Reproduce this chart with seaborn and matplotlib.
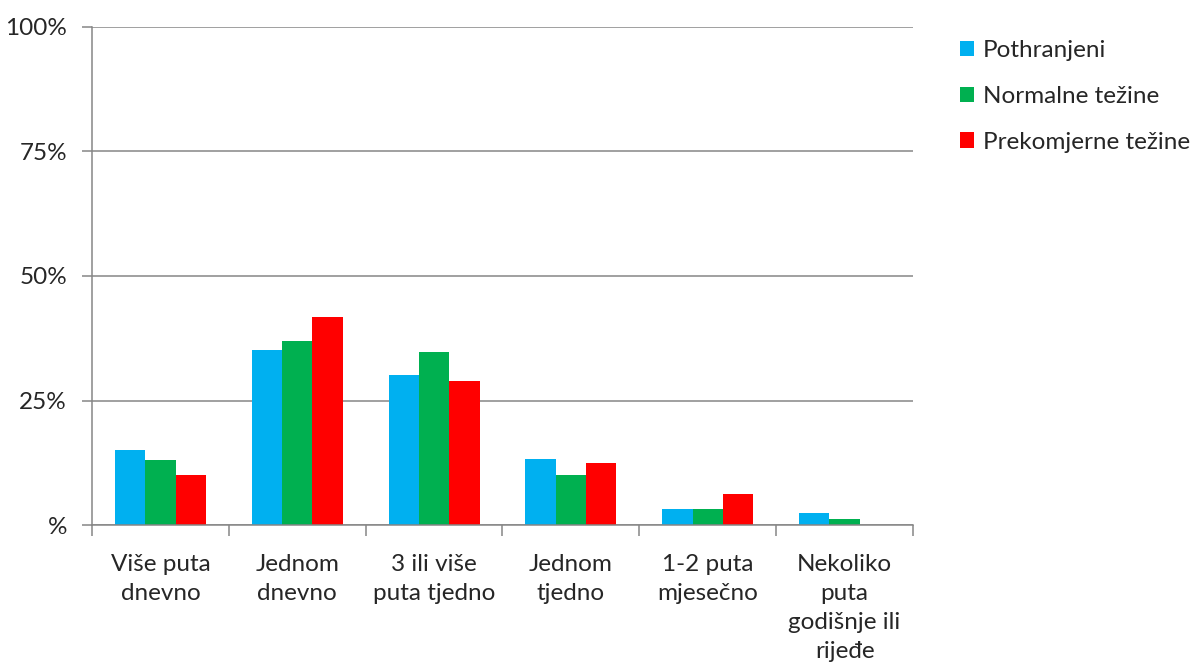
import matplotlib
matplotlib.use("Agg")
import matplotlib.pyplot as plt
import seaborn as sns
import pandas as pd
import numpy as np
from matplotlib.ticker import FixedLocator

categories = ["Više puta\ndnevno", "Jednom\ndnevno", "3 ili više\nputa tjedno",
              "Jednom\ntjedno", "1-2 puta\nmjesečno", "Nekoliko\nputa\ngodišnje ili\nrijeđe"]
series = ["Pothranjeni", "Normalne težine", "Prekomjerne težine"]
pothranjeni = [15.0, 35.1, 30.1, 13.3, 3.3, 2.4]
normalne = [13.1, 37.0, 34.7, 10.1, 3.2, 1.2]
prekomjerne = [10.0, 41.7, 29.0, 12.5, 6.3, 0.0]
colors = ["#00B0F0", "#00B050", "#FF0000"]
ytick_vals = [0, 25, 50, 75, 100]
ytick_labels = ["%", "25%", "50%", "75%", "100%"]

rows = []
for s, vals in zip(series, [pothranjeni, normalne, prekomjerne]):
    for c, v in zip(categories, vals):
        rows.append({"cat": c, "series": s, "val": v})
df = pd.DataFrame(rows)

sns.set_style("white")
plt.rcParams["font.family"] = ["Lato", "DejaVu Sans"]

FS = 17.5
fig = plt.figure(figsize=(11.97, 6.71), dpi=100)
ax = fig.add_axes([92/1197, 1-525/671, (913-92)/1197, (525-27)/671])

sns.barplot(data=df, x="cat", y="val", hue="series", order=categories,
            hue_order=series, palette=colors, width=0.665, linewidth=0,
            saturation=1, ax=ax, legend=True)

grid_c = "#868686"
ax.set_ylim(0, 100)
ax.set_xlim(-0.5, len(categories) - 0.5)
ax.set_yticks(ytick_vals)
ax.set_yticklabels(ytick_labels, fontsize=FS)
ax.yaxis.grid(True, color=grid_c, linewidth=1.1)
ax.set_axisbelow(True)
ax.tick_params(axis="y", length=7, color=grid_c, width=1.1, pad=11, left=True)
ax.set_xticks(range(len(categories)))
ax.set_xticklabels(categories, fontsize=FS, linespacing=1.47, va="top")
ax.tick_params(axis="x", which="major", length=0, pad=21)
ax.xaxis.set_minor_locator(FixedLocator(np.arange(-0.5, len(categories), 1.0)))
ax.tick_params(axis="x", which="minor", length=8, color=grid_c, width=1.1, bottom=True)
ax.set_xlabel("")
ax.set_ylabel("")
for sp in ["top", "right"]:
    ax.spines[sp].set_visible(False)
for sp in ["left", "bottom"]:
    ax.spines[sp].set_color(grid_c)
    ax.spines[sp].set_linewidth(1.1)

leg = ax.legend(loc="upper left", bbox_to_anchor=(960/1197, 1-40/671),
                bbox_transform=fig.transFigure, frameon=False, fontsize=FS,
                handlelength=0.58, handleheight=0.58, handletextpad=0.35,
                labelspacing=1.02, borderaxespad=0, borderpad=0)

fig.savefig("out.png", dpi=100)
